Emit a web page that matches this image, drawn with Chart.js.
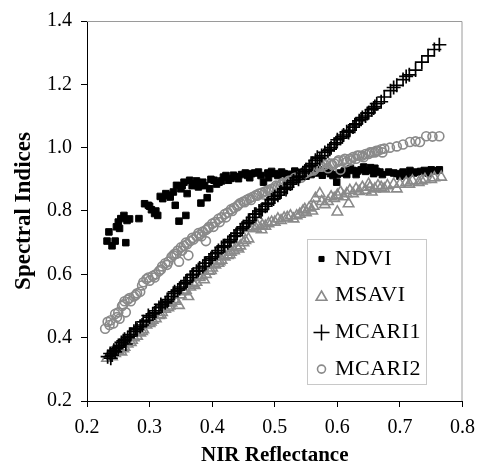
<!DOCTYPE html>
<html>
<head>
<meta charset="utf-8">
<script src="https://cdn.jsdelivr.net/npm/chart.js@4/dist/chart.umd.min.js"></script>
<style>
html,body{margin:0;padding:0;background:#fff;}
canvas{display:block;}
</style>
</head>
<body>
<canvas id="c" width="484" height="468"></canvas>
<script>
// ---- data ----
const xTicks = [0.2, 0.3, 0.4, 0.5, 0.6, 0.7, 0.8];
const yTicks = [0.2, 0.4, 0.6, 0.8, 1.0, 1.2, 1.4];
const seriesNames = ["NDVI", "MSAVI", "MCARI1", "MCARI2"];

const ndvi = [
[0.232,0.705],[0.235,0.734],[0.240,0.690],[0.245,0.705],[0.247,0.750],[0.250,0.765],[0.252,0.745],[0.254,0.776],
[0.259,0.786],[0.262,0.700],[0.264,0.770],[0.268,0.775],[0.283,0.776],[0.292,0.823],[0.298,0.818],[0.300,0.815],
[0.303,0.804],[0.308,0.792],[0.310,0.800],[0.313,0.786],[0.317,0.846],[0.321,0.839],[0.326,0.855],[0.330,0.850],
[0.333,0.844],[0.338,0.860],[0.341,0.818],[0.343,0.881],[0.347,0.768],[0.350,0.870],[0.352,0.880],[0.355,0.891],
[0.358,0.786],[0.360,0.855],[0.364,0.897],[0.368,0.880],[0.371,0.886],[0.375,0.895],[0.378,0.876],[0.382,0.825],
[0.385,0.891],[0.388,0.880],[0.392,0.842],[0.396,0.870],[0.398,0.900],[0.403,0.897],[0.407,0.885],[0.411,0.891],
[0.415,0.895],[0.418,0.907],[0.422,0.912],[0.426,0.897],[0.430,0.903],[0.434,0.913],[0.438,0.908],[0.442,0.902],
[0.447,0.915],[0.453,0.920],[0.457,0.912],[0.460,0.905],[0.463,0.918],[0.468,0.920],[0.474,0.923],[0.478,0.912],
[0.482,0.891],[0.489,0.920],[0.490,0.905],[0.495,0.925],[0.500,0.918],[0.505,0.912],[0.511,0.923],[0.515,0.918],
[0.520,0.905],[0.521,0.916],[0.527,0.910],[0.532,0.926],[0.537,0.922],[0.542,0.913],[0.547,0.925],[0.550,0.910],
[0.553,0.920],[0.558,0.915],[0.563,0.928],[0.567,0.920],[0.570,0.930],[0.576,0.913],[0.583,0.925],[0.589,0.918],
[0.593,0.912],[0.599,0.891],[0.600,0.915],[0.605,0.920],[0.611,0.926],[0.615,0.915],[0.621,0.934],[0.625,0.928],
[0.630,0.915],[0.632,0.926],[0.638,0.930],[0.642,0.939],[0.645,0.925],[0.650,0.928],[0.653,0.937],[0.658,0.918],
[0.660,0.935],[0.663,0.925],[0.668,0.923],[0.672,0.915],[0.682,0.923],[0.690,0.920],[0.695,0.918],[0.700,0.910],
[0.705,0.923],[0.710,0.915],[0.716,0.928],[0.722,0.920],[0.726,0.923],[0.733,0.925],[0.739,0.928],[0.745,0.920],
[0.750,0.930],[0.757,0.927],[0.763,0.930]
];

const msavi = [
[0.232,0.335],[0.238,0.345],[0.240,0.340],[0.245,0.350],[0.250,0.360],[0.255,0.355],[0.258,0.365],[0.260,0.370],
[0.265,0.380],[0.270,0.385],[0.272,0.392],[0.275,0.400],[0.280,0.405],[0.285,0.415],[0.288,0.420],[0.290,0.425],
[0.295,0.440],[0.300,0.445],[0.302,0.450],[0.305,0.455],[0.310,0.460],[0.315,0.470],[0.318,0.472],[0.320,0.480],
[0.325,0.490],[0.330,0.495],[0.332,0.500],[0.335,0.510],[0.340,0.520],[0.342,0.515],[0.347,0.502],[0.350,0.535],
[0.355,0.545],[0.358,0.550],[0.362,0.530],[0.365,0.560],[0.370,0.570],[0.372,0.565],[0.375,0.575],[0.380,0.590],
[0.383,0.595],[0.387,0.583],[0.390,0.600],[0.395,0.610],[0.398,0.612],[0.400,0.620],[0.405,0.630],[0.410,0.635],
[0.412,0.640],[0.415,0.645],[0.420,0.655],[0.425,0.660],[0.428,0.662],[0.430,0.670],[0.435,0.675],[0.440,0.685],
[0.442,0.680],[0.445,0.690],[0.450,0.700],[0.453,0.707],[0.458,0.712],[0.460,0.745],[0.465,0.750],[0.470,0.745],
[0.472,0.755],[0.479,0.741],[0.480,0.755],[0.485,0.752],[0.490,0.760],[0.495,0.765],[0.500,0.765],[0.505,0.775],
[0.510,0.770],[0.515,0.778],[0.520,0.780],[0.525,0.785],[0.530,0.775],[0.535,0.785],[0.540,0.790],[0.545,0.800],
[0.548,0.805],[0.550,0.795],[0.555,0.810],[0.560,0.800],[0.562,0.815],[0.565,0.840],[0.572,0.855],[0.575,0.830],
[0.580,0.820],[0.585,0.830],[0.590,0.845],[0.595,0.840],[0.600,0.797],[0.600,0.850],[0.605,0.860],[0.610,0.845],
[0.615,0.855],[0.618,0.823],[0.620,0.865],[0.625,0.855],[0.630,0.870],[0.635,0.862],[0.640,0.875],[0.645,0.865],
[0.650,0.885],[0.652,0.875],[0.655,0.860],[0.660,0.870],[0.665,0.880],[0.670,0.875],[0.675,0.870],[0.680,0.880],
[0.690,0.885],[0.695,0.870],[0.700,0.885],[0.710,0.890],[0.715,0.885],[0.720,0.895],[0.730,0.890],[0.735,0.895],
[0.740,0.900],[0.750,0.900],[0.755,0.905],[0.766,0.907]
];

const mcari1 = [
[0.233,0.340],[0.237,0.350],[0.238,0.335],[0.240,0.345],[0.243,0.360],[0.245,0.355],[0.247,0.365],[0.250,0.370],
[0.252,0.375],[0.255,0.385],[0.258,0.390],[0.260,0.395],[0.262,0.380],[0.265,0.400],[0.268,0.405],[0.270,0.410],
[0.275,0.420],[0.278,0.430],[0.280,0.425],[0.285,0.435],[0.288,0.440],[0.290,0.450],[0.295,0.455],[0.298,0.470],
[0.300,0.465],[0.305,0.475],[0.308,0.478],[0.310,0.485],[0.315,0.495],[0.318,0.505],[0.320,0.500],[0.325,0.510],
[0.328,0.515],[0.330,0.520],[0.335,0.530],[0.338,0.540],[0.340,0.545],[0.345,0.550],[0.348,0.555],[0.350,0.560],
[0.355,0.570],[0.358,0.575],[0.360,0.580],[0.365,0.590],[0.368,0.598],[0.370,0.600],[0.375,0.610],[0.378,0.612],
[0.380,0.620],[0.385,0.625],[0.388,0.635],[0.390,0.635],[0.395,0.645],[0.398,0.650],[0.400,0.655],[0.405,0.665],
[0.408,0.668],[0.410,0.675],[0.415,0.685],[0.418,0.690],[0.420,0.690],[0.425,0.700],[0.428,0.705],[0.430,0.710],
[0.435,0.720],[0.438,0.722],[0.440,0.730],[0.445,0.740],[0.448,0.745],[0.450,0.750],[0.455,0.760],[0.458,0.765],
[0.460,0.770],[0.465,0.780],[0.468,0.790],[0.470,0.790],[0.475,0.800],[0.478,0.798],[0.480,0.805],[0.485,0.815],
[0.488,0.822],[0.490,0.825],[0.495,0.835],[0.498,0.838],[0.500,0.845],[0.505,0.850],[0.508,0.858],[0.510,0.860],
[0.515,0.870],[0.518,0.868],[0.520,0.875],[0.525,0.885],[0.528,0.890],[0.530,0.895],[0.535,0.905],[0.538,0.900],
[0.540,0.910],[0.545,0.920],[0.548,0.925],[0.550,0.930],[0.555,0.940],[0.558,0.945],[0.560,0.950],[0.565,0.960],
[0.568,0.970],[0.572,0.965],[0.575,0.975],[0.580,0.985],[0.585,0.990],[0.588,0.995],[0.590,1.000],[0.595,1.010],
[0.598,1.015],[0.600,1.025],[0.605,1.030],[0.608,1.035],[0.610,1.040],[0.615,1.050],[0.618,1.048],[0.620,1.055],
[0.625,1.065],[0.628,1.072],[0.630,1.075],[0.635,1.085],[0.638,1.090],[0.640,1.095],[0.645,1.100],[0.648,1.108],
[0.650,1.110],[0.655,1.120],[0.658,1.125],[0.660,1.130],[0.663,1.139],[0.670,1.145],[0.675,1.160],[0.685,1.180],
[0.690,1.190],[0.695,1.197],[0.705,1.215],[0.710,1.225],[0.715,1.230],[0.725,1.245],[0.735,1.270],[0.745,1.290],
[0.755,1.310],[0.763,1.325]
];

const mcari2 = [
[0.229,0.428],[0.233,0.450],[0.236,0.440],[0.238,0.455],[0.242,0.445],[0.245,0.475],[0.248,0.465],[0.250,0.480],
[0.252,0.460],[0.256,0.500],[0.258,0.505],[0.260,0.515],[0.262,0.480],[0.265,0.520],[0.268,0.525],[0.270,0.515],
[0.275,0.530],[0.278,0.535],[0.280,0.540],[0.285,0.545],[0.288,0.565],[0.290,0.575],[0.295,0.585],[0.298,0.590],
[0.300,0.580],[0.305,0.595],[0.308,0.590],[0.310,0.600],[0.315,0.610],[0.318,0.615],[0.320,0.625],[0.325,0.635],
[0.328,0.630],[0.330,0.640],[0.335,0.655],[0.338,0.660],[0.340,0.665],[0.343,0.665],[0.345,0.675],[0.347,0.640],
[0.350,0.685],[0.352,0.675],[0.355,0.690],[0.358,0.700],[0.360,0.695],[0.362,0.660],[0.365,0.705],[0.368,0.715],
[0.370,0.710],[0.375,0.720],[0.378,0.730],[0.380,0.725],[0.383,0.720],[0.385,0.735],[0.390,0.740],[0.390,0.705],
[0.393,0.745],[0.395,0.750],[0.400,0.760],[0.402,0.750],[0.405,0.765],[0.410,0.775],[0.412,0.765],[0.415,0.780],
[0.420,0.790],[0.422,0.780],[0.425,0.795],[0.430,0.805],[0.432,0.800],[0.435,0.810],[0.440,0.815],[0.442,0.820],
[0.445,0.825],[0.450,0.830],[0.452,0.828],[0.455,0.835],[0.460,0.840],[0.462,0.835],[0.465,0.845],[0.470,0.850],
[0.472,0.848],[0.475,0.855],[0.480,0.858],[0.482,0.852],[0.485,0.862],[0.490,0.866],[0.492,0.862],[0.495,0.870],
[0.500,0.872],[0.502,0.880],[0.505,0.878],[0.510,0.882],[0.512,0.888],[0.515,0.886],[0.520,0.890],[0.522,0.895],
[0.525,0.895],[0.530,0.900],[0.532,0.905],[0.535,0.905],[0.540,0.910],[0.542,0.905],[0.545,0.915],[0.550,0.920],
[0.552,0.925],[0.555,0.925],[0.560,0.930],[0.562,0.928],[0.565,0.935],[0.570,0.940],[0.572,0.945],[0.575,0.940],
[0.580,0.945],[0.582,0.955],[0.585,0.935],[0.590,0.950],[0.592,0.945],[0.595,0.950],[0.600,0.955],[0.602,0.960],
[0.605,0.930],[0.610,0.960],[0.612,0.965],[0.615,0.955],[0.620,0.965],[0.622,0.960],[0.625,0.970],[0.630,0.965],
[0.632,0.975],[0.635,0.975],[0.640,0.975],[0.642,0.970],[0.645,0.980],[0.650,0.980],[0.652,0.985],[0.655,0.985],
[0.660,0.985],[0.662,0.990],[0.665,0.990],[0.670,0.995],[0.672,0.985],[0.675,0.997],[0.684,1.000],[0.695,1.004],
[0.705,1.010],[0.716,1.018],[0.725,1.020],[0.732,1.018],[0.742,1.036],[0.752,1.035],[0.763,1.036]
];

const GRAY = '#8a8a8a';
const SERIF = '"Liberation Serif", "Times New Roman", serif';
const toXY = arr => arr.map(p => ({x: p[0], y: p[1]}));

const styles = [
  {pointStyle: 'rect', pointRadius: 4.6, backgroundColor: '#000', borderColor: '#000', borderWidth: 1, order: 4, legendR: 3.6},
  {pointStyle: 'triangle', pointRadius: 6, backgroundColor: 'rgba(255,255,255,0)', borderColor: GRAY, borderWidth: 1.6, order: 3, legendR: 6.2},
  {pointStyle: 'cross', pointRadius: 7, backgroundColor: '#000', borderColor: '#000', borderWidth: 1.7, order: 1, legendR: 8},
  {pointStyle: 'circle', pointRadius: 4.5, backgroundColor: 'rgba(255,255,255,0)', borderColor: GRAY, borderWidth: 1.6, order: 2, legendR: 4}
];
const seriesData = [ndvi, msavi, mcari1, mcari2];

const datasets = seriesNames.map((name, i) => Object.assign({
  label: name,
  data: toXY(seriesData[i]),
  pointHoverRadius: styles[i].pointRadius
}, styles[i]));

function drawMarker(ctx, style, x, y, r) {
  ctx.save();
  ctx.beginPath();
  ctx.lineWidth = style.borderWidth;
  ctx.strokeStyle = style.borderColor;
  ctx.fillStyle = style.backgroundColor;
  if (style.pointStyle === 'rect') {
    const s = r * Math.SQRT1_2;
    ctx.rect(x - s, y - s, 2 * s, 2 * s);
    ctx.fill(); ctx.stroke();
  } else if (style.pointStyle === 'triangle') {
    let a = 0;
    ctx.moveTo(x + Math.sin(a) * r, y - Math.cos(a) * r);
    a += 2 * Math.PI / 3;
    ctx.lineTo(x + Math.sin(a) * r, y - Math.cos(a) * r);
    a += 2 * Math.PI / 3;
    ctx.lineTo(x + Math.sin(a) * r, y - Math.cos(a) * r);
    ctx.closePath();
    ctx.stroke();
  } else if (style.pointStyle === 'cross') {
    ctx.moveTo(x - r, y); ctx.lineTo(x + r, y);
    ctx.moveTo(x, y - r); ctx.lineTo(x, y + r);
    ctx.stroke();
  } else {
    ctx.arc(x, y, r, 0, Math.PI * 2);
    ctx.stroke();
  }
  ctx.restore();
}

const framePlugin = {
  id: 'frame',
  afterDatasetsDraw(chart) {
    const {ctx, chartArea: a} = chart;
    ctx.save();
    ctx.strokeStyle = '#9a9a9a';
    ctx.lineWidth = 1;
    ctx.beginPath();
    ctx.moveTo(a.left, a.top + 0.5);
    ctx.lineTo(a.right - 0.5, a.top + 0.5);
    ctx.lineTo(a.right - 0.5, a.bottom);
    ctx.stroke();
    ctx.restore();
  }
};

const legendPlugin = {
  id: 'boxLegend',
  afterDraw(chart) {
    const {ctx, chartArea: a} = chart;
    const bx = a.left + 220, by = a.top + 218, bw = 119, bh = 145;
    ctx.save();
    ctx.fillStyle = '#fff';
    ctx.fillRect(bx, by, bw, bh);
    ctx.strokeStyle = '#c8c8c8';
    ctx.lineWidth = 1;
    ctx.strokeRect(bx + 0.5, by + 0.5, bw, bh);
    ctx.font = '22px ' + SERIF;
    ctx.fillStyle = '#000';
    ctx.textBaseline = 'middle';
    ctx.textAlign = 'left';
    try { ctx.letterSpacing = '0.5px'; } catch (e) {}
    chart.data.datasets.forEach((ds, i) => {
      const cy = by + 20 + i * 36.7;
      drawMarker(ctx, Object.assign({}, styles[i], {borderWidth: i === 2 ? 1.5 : styles[i].borderWidth}), bx + 14.5, cy + (i === 1 ? 1.5 : 0), styles[i].legendR);
      ctx.fillText(ds.label, bx + 28, cy);
    });
    ctx.restore();
  }
};

new Chart(document.getElementById('c'), {
  type: 'scatter',
  data: {datasets},
  options: {
    responsive: false,
    animation: false,
    events: [],
    layout: {padding: {top: 20, right: 17, left: 0, bottom: 0}},
    plugins: {legend: {display: false}, tooltip: {enabled: false}},
    scales: {
      x: {
        type: 'linear',
        min: xTicks[0], max: xTicks[xTicks.length - 1],
        afterFit(s) { s.height = 67; },
        afterBuildTicks(s) { s.ticks = xTicks.map(v => ({value: v})); },
        ticks: {
          color: '#000', padding: 9,
          font: {family: SERIF, size: 20},
          callback: v => Number(v).toFixed(1)
        },
        grid: {display: true, drawOnChartArea: false, drawTicks: true, tickLength: 6, color: '#000'},
        border: {display: true, color: '#000', width: 1},
        title: {
          display: true, text: 'NIR Reflectance', color: '#000',
          font: {family: SERIF, size: 21, weight: 'bold'},
          padding: {top: 0, bottom: 0}
        }
      },
      y: {
        type: 'linear',
        min: yTicks[0], max: yTicks[yTicks.length - 1],
        afterFit(s) { s.width = 87; },
        afterBuildTicks(s) { s.ticks = yTicks.map(v => ({value: v})); },
        ticks: {
          color: '#000', padding: 9,
          font: {family: SERIF, size: 20},
          callback: v => Number(v).toFixed(1)
        },
        grid: {display: true, drawOnChartArea: false, drawTicks: true, tickLength: 6, color: '#000'},
        border: {display: true, color: '#000', width: 1},
        title: {
          display: true, text: 'Spectral Indices', color: '#000',
          font: {family: SERIF, size: 23, weight: 'bold'},
          padding: {top: 10, bottom: 0}
        }
      }
    }
  },
  plugins: [framePlugin, legendPlugin]
});
</script>
</body>
</html>
